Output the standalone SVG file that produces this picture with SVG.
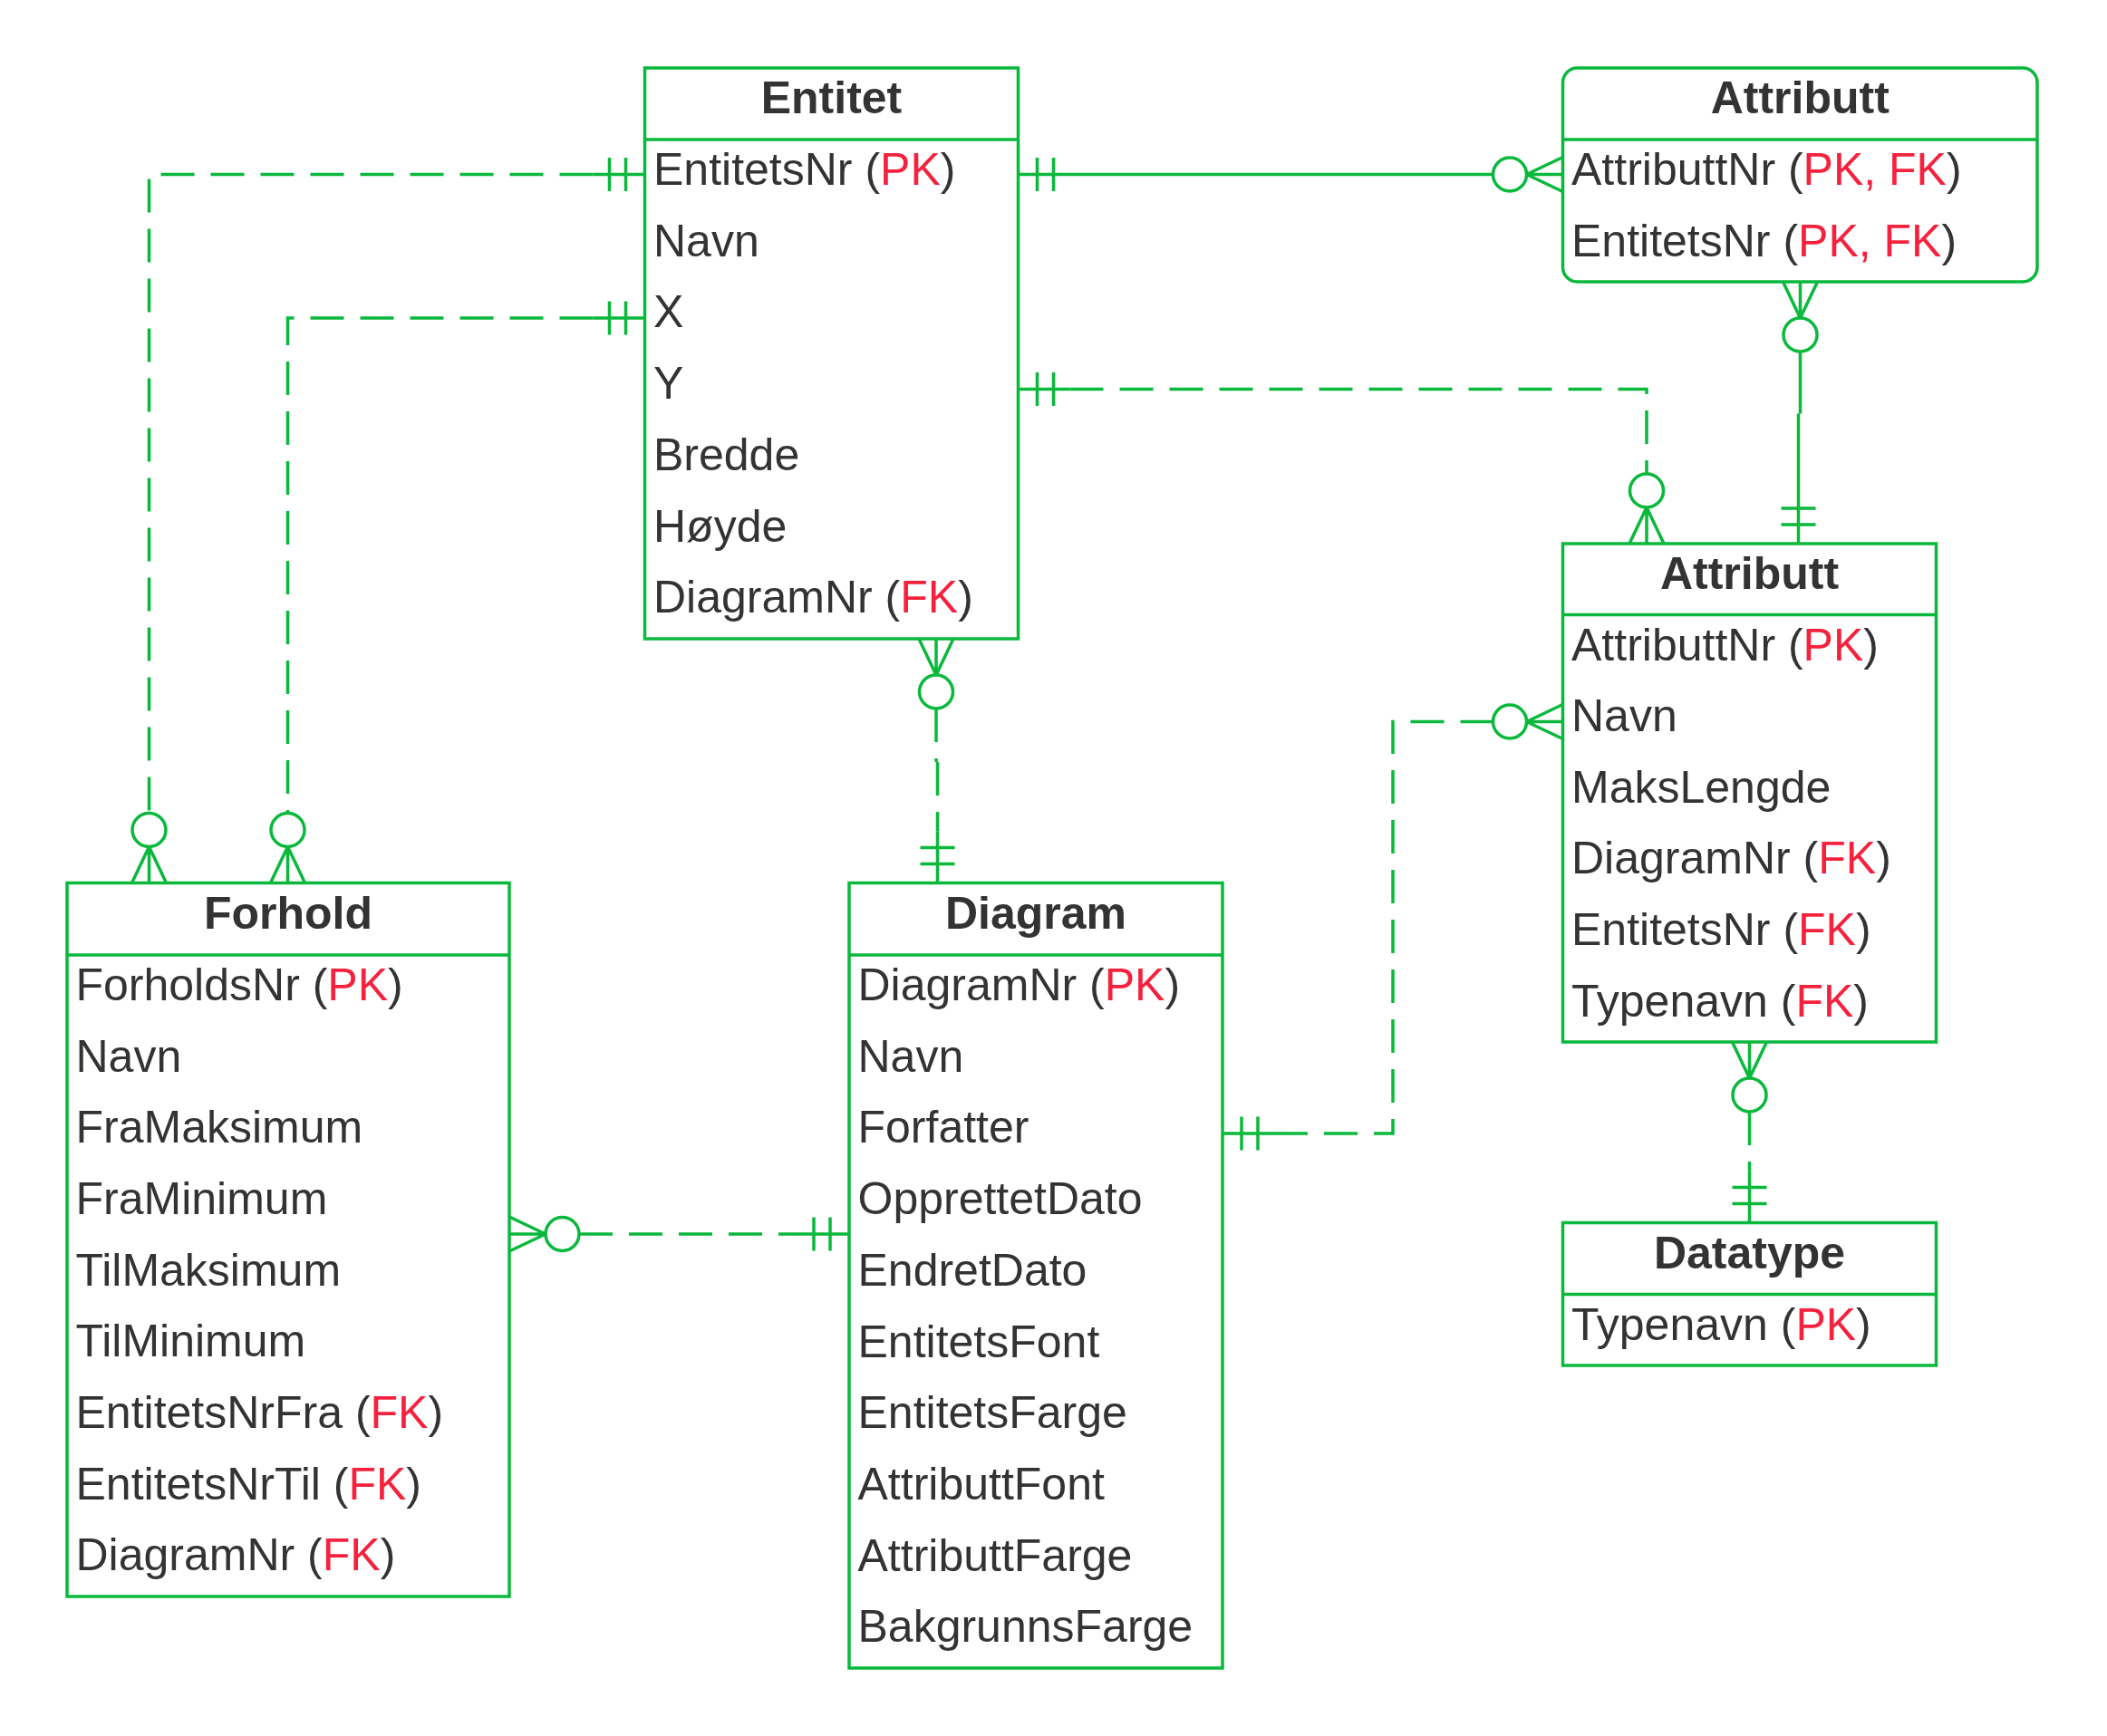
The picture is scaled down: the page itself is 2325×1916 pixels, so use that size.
<svg xmlns="http://www.w3.org/2000/svg" width="2325" height="1916" viewBox="0 0 2325 1916">
<style>
.box{fill:#fff;stroke:#0ab83c;stroke-width:3.5}
.sep{stroke:#0ab83c;stroke-width:3.5}
.ln{stroke:#0ab83c;stroke-width:3.5;fill:none}
.dash{stroke-dasharray:37 18}
.t{font-family:"Liberation Sans",Arial,sans-serif;font-size:50px;fill:#333333}
.h{font-weight:bold;text-anchor:middle}
.r{fill:#f5213d}
</style>
<rect width="2325" height="1916" fill="#ffffff"/>
<g id="connectors" class="ln">
  <!-- 1 Entitet.EntitetsNr -> Forhold -->
  <path d="M711.5,192.5H654.5M690.5,174V211M672.5,174V211"/>
  <path class="dash" d="M654.5,192.5H164.5V897.5"/>
  <circle cx="164.5" cy="916" r="18.5"/>
  <path d="M164.5,934.5L145.5,974.5M164.5,934.5L183.5,974.5M164.5,934.5V974.5"/>
  <!-- 2 Entitet.X -> Forhold -->
  <path d="M711.5,351H654.5M690.5,332.5V369.5M672.5,332.5V369.5"/>
  <path class="dash" d="M654.5,351H317.5V897.5"/>
  <circle cx="317.5" cy="916" r="18.5"/>
  <path d="M317.5,934.5L298.5,974.5M317.5,934.5L336.5,974.5M317.5,934.5V974.5"/>
  <!-- 3 Entitet -> Attributt (top) solid -->
  <path d="M1123.5,192.5H1647.5M1144.5,174V211M1162.5,174V211"/>
  <circle cx="1666" cy="192.5" r="18.5"/>
  <path d="M1684.5,192.5L1724.5,173.5M1684.5,192.5L1724.5,211.5M1684.5,192.5H1724.5"/>
  <!-- 4 Entitet.Y -> Attributt 2 -->
  <path d="M1123.5,429.5H1180.5M1144.5,411V448M1162.5,411V448"/>
  <path class="dash" d="M1180.5,429.5H1817V523"/>
  <circle cx="1817" cy="541.5" r="18.5"/>
  <path d="M1817,560L1798,600M1817,560L1836,600M1817,560V600"/>
  <!-- 5 Attributt top -> Attributt 2 solid -->
  <path d="M1986.5,351L1967.5,311M1986.5,351L2005.5,311M1986.5,351V311"/>
  <circle cx="1986.5" cy="369.5" r="18.5"/>
  <path d="M1986.5,388V456.5M1984.5,456.5V600M1965.5,579H2003.5M1965.5,561H2003.5"/>
  <!-- 6 Entitet -> Diagram -->
  <path d="M1033,745L1014,705M1033,745L1052,705M1033,745V705"/>
  <circle cx="1033" cy="763.5" r="18.5"/>
  <path class="dash" d="M1033,782V841M1034.5,841V917.5"/>
  <path d="M1034.5,917.5V974.5M1015.5,953.5H1053.5M1015.5,935.5H1053.5"/>
  <!-- 7 Forhold -> Diagram -->
  <path d="M602,1362L562,1343M602,1362L562,1381M602,1362H562"/>
  <circle cx="620.5" cy="1362" r="18.5"/>
  <path class="dash" d="M639,1362H880"/>
  <path d="M880,1362H937M916,1343.5V1380.5M898,1343.5V1380.5"/>
  <!-- 8 Diagram -> Attributt 2 Navn -->
  <path d="M1349,1251H1406M1370,1232.5V1269.5M1388,1232.5V1269.5"/>
  <path class="dash" d="M1406,1251H1537V796.5H1647.5"/>
  <circle cx="1666" cy="796.5" r="18.5"/>
  <path d="M1684.5,796.5L1724.5,777.5M1684.5,796.5L1724.5,815.5M1684.5,796.5H1724.5"/>
  <!-- 9 Attributt 2 -> Datatype -->
  <path d="M1930.5,1190L1911.5,1150M1930.5,1190L1949.5,1150M1930.5,1190V1150"/>
  <circle cx="1930.5" cy="1208.5" r="18.5"/>
  <path class="dash" d="M1930.5,1227V1292.5"/>
  <path d="M1930.5,1292.5V1349.5M1911.5,1328.5H1949.5M1911.5,1310.5H1949.5"/>
</g>
<g id="entitet">
  <rect class="box" x="711.5" y="75" width="412" height="630"/>
  <line class="sep" x1="711.5" y1="154" x2="1123.5" y2="154"/>
  <text class="t h" x="917.5" y="125">Entitet</text>
  <text class="t" x="721" y="204">EntitetsNr (<tspan class="r">PK</tspan>)</text>
  <text class="t" x="721" y="282.7">Navn</text>
  <text class="t" x="721" y="361.4">X</text>
  <text class="t" x="721" y="440.1">Y</text>
  <text class="t" x="721" y="518.8">Bredde</text>
  <text class="t" x="721" y="597.6">Høyde</text>
  <text class="t" x="721" y="676.3">DiagramNr (<tspan class="r">FK</tspan>)</text>
</g>
<g id="attributt-kobling">
  <rect class="box" x="1724.5" y="75" width="523.5" height="236" rx="16" ry="16"/>
  <line class="sep" x1="1724.5" y1="154" x2="2248" y2="154"/>
  <text class="t h" x="1986.25" y="125">Attributt</text>
  <text class="t" x="1734" y="204">AttributtNr (<tspan class="r">PK, FK</tspan>)</text>
  <text class="t" x="1734" y="282.5">EntitetsNr (<tspan class="r">PK, FK</tspan>)</text>
</g>
<g id="attributt">
  <rect class="box" x="1724.5" y="600" width="412" height="550"/>
  <line class="sep" x1="1724.5" y1="678.5" x2="2136.5" y2="678.5"/>
  <text class="t h" x="1930.5" y="650">Attributt</text>
  <text class="t" x="1734" y="728.5">AttributtNr (<tspan class="r">PK</tspan>)</text>
  <text class="t" x="1734" y="807.1">Navn</text>
  <text class="t" x="1734" y="885.7">MaksLengde</text>
  <text class="t" x="1734" y="964.3">DiagramNr (<tspan class="r">FK</tspan>)</text>
  <text class="t" x="1734" y="1042.9">EntitetsNr (<tspan class="r">FK</tspan>)</text>
  <text class="t" x="1734" y="1121.5">Typenavn (<tspan class="r">FK</tspan>)</text>
</g>
<g id="datatype">
  <rect class="box" x="1724.5" y="1349.5" width="412" height="157.5"/>
  <line class="sep" x1="1724.5" y1="1428.5" x2="2136.5" y2="1428.5"/>
  <text class="t h" x="1930.5" y="1399.5">Datatype</text>
  <text class="t" x="1734" y="1478.5">Typenavn (<tspan class="r">PK</tspan>)</text>
</g>
<g id="forhold">
  <rect class="box" x="74" y="974.5" width="488" height="787.5"/>
  <line class="sep" x1="74" y1="1054" x2="562" y2="1054"/>
  <text class="t h" x="318" y="1024.5">Forhold</text>
  <text class="t" x="83.5" y="1104">ForholdsNr (<tspan class="r">PK</tspan>)</text>
  <text class="t" x="83.5" y="1182.7">Navn</text>
  <text class="t" x="83.5" y="1261.3">FraMaksimum</text>
  <text class="t" x="83.5" y="1340">FraMinimum</text>
  <text class="t" x="83.5" y="1418.7">TilMaksimum</text>
  <text class="t" x="83.5" y="1497.3">TilMinimum</text>
  <text class="t" x="83.5" y="1576">EntitetsNrFra (<tspan class="r">FK</tspan>)</text>
  <text class="t" x="83.5" y="1654.7">EntitetsNrTil (<tspan class="r">FK</tspan>)</text>
  <text class="t" x="83.5" y="1733.3">DiagramNr (<tspan class="r">FK</tspan>)</text>
</g>
<g id="diagram">
  <rect class="box" x="937" y="974.5" width="412" height="866.5"/>
  <line class="sep" x1="937" y1="1054" x2="1349" y2="1054"/>
  <text class="t h" x="1143" y="1024.5">Diagram</text>
  <text class="t" x="946.5" y="1104">DiagramNr (<tspan class="r">PK</tspan>)</text>
  <text class="t" x="946.5" y="1182.7">Navn</text>
  <text class="t" x="946.5" y="1261.4">Forfatter</text>
  <text class="t" x="946.5" y="1340.1">OpprettetDato</text>
  <text class="t" x="946.5" y="1418.8">EndretDato</text>
  <text class="t" x="946.5" y="1497.5">EntitetsFont</text>
  <text class="t" x="946.5" y="1576.2">EntitetsFarge</text>
  <text class="t" x="946.5" y="1654.9">AttributtFont</text>
  <text class="t" x="946.5" y="1733.6">AttributtFarge</text>
  <text class="t" x="946.5" y="1812.3">BakgrunnsFarge</text>
</g>
</svg>
